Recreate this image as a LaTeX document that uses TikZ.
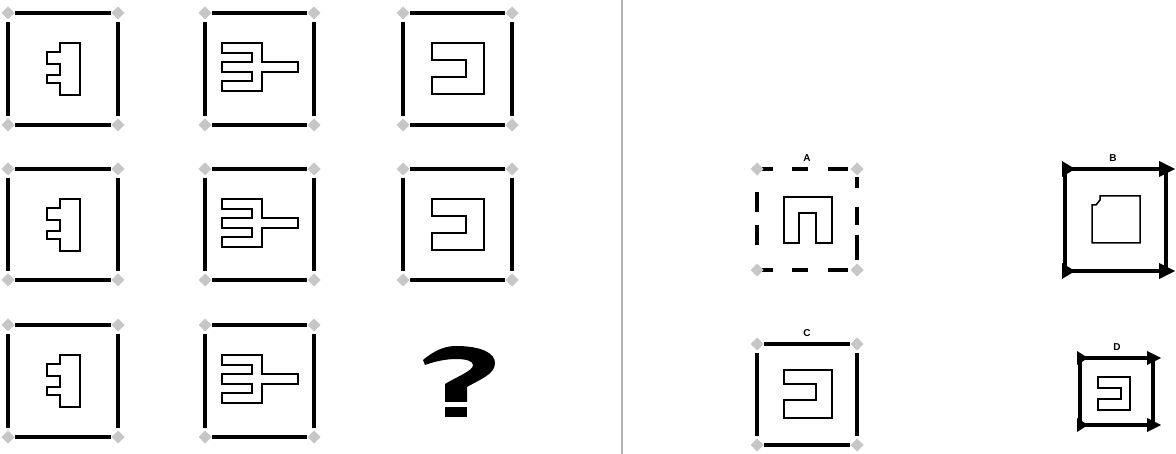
\documentclass[tikz,border=0pt]{standalone}
\usepackage{fontspec}
\setsansfont{Liberation Sans}
\tikzset{
  bar/.style={line width=4, black},
  gem/.style={fill=black!22, draw=none},
  fig/.style={line width=1.5, draw=black, fill=white, line join=miter},
  lbl/.style={font=\sffamily\bfseries\fontsize{10}{10}\selectfont, inner sep=0},
  sep/.style={draw=black!30, line width=1.5},
  tip/.style={fill=black, draw=none},
}
\newcommand\gemat[2]{\fill[gem] (#1,#2) ++(-6.5,0) -- ++(6.5,-6.5) -- ++(6.5,6.5) -- ++(-6.5,6.5) -- cycle;}
\newcommand\gframe[4]{%
  \draw[bar] (#1+7,#2) -- (#3-7,#2);
  \draw[bar] (#1+7,#4) -- (#3-7,#4);
  \draw[bar] (#1,#2+9) -- (#1,#4-9);
  \draw[bar] (#3,#2+9) -- (#3,#4-9);
  \gemat{#1}{#2}\gemat{#3}{#2}\gemat{#1}{#4}\gemat{#3}{#4}}
\newcommand\keyshape[2]{\draw[fig,shift={(#1,#2)}] (52,30) -- (72,30) -- (72,82) -- (52,82) -- (52,70) -- (39,70) -- (39,62) -- (52,62) -- (52,51) -- (39,51) -- (39,39) -- (52,39) -- cycle;}
\newcommand\combshape[2]{\draw[fig,shift={(#1,#2)}] (17,30) -- (57,30) -- (57,49) -- (93,49) -- (93,59) -- (57,59) -- (57,78) -- (17,78) -- (17,68) -- (47,68) -- (47,59) -- (17,59) -- (17,49) -- (47,49) -- (47,40) -- (17,40) -- cycle;}
\newcommand\cshape[2]{\draw[fig,shift={(#1,#2)}] (29,30) -- (81,30) -- (81,81) -- (29,81) -- (29,64) -- (63,64) -- (63,47) -- (29,47) -- cycle;}
\begin{document}
\begin{tikzpicture}[x=1pt,y=-1pt]
\useasboundingbox (0,0) rectangle (1176,454);
\fill[white] (0,0) rectangle (1176,454);
% matrix
\foreach \t/\b in {13/125,169/280,325/437}{
  \gframe{8}{\t}{118}{\b}
  \keyshape{8}{\t}
  \gframe{205}{\t}{314}{\b}
  \combshape{205}{\t}
}
\gframe{403}{13}{512}{125}\cshape{403}{13}
\gframe{403}{169}{512}{280}\cshape{403}{169}
% question mark
\fill (423,360) .. controls (435,350) and (445,346) .. (456,346) .. controls (481,346) and (495,353) .. (495,363) .. controls (495,374) and (481,379) .. (467,387) -- (467,402) -- (445,402) -- (445,384) .. controls (458,376) and (473,371) .. (473,365) .. controls (473,361) and (466,359) .. (456,359) .. controls (445,359) and (433,362) .. (425,365) -- cycle;
\fill (445,407) rectangle (467,417);
% separator
\draw[sep] (622,0) -- (622,454);
% option A
\node[lbl] (la) at (807,158) {A};
\foreach \a/\b in {762/773,792/808,828/848}{
  \draw[bar] (\a,169) -- (\b,169);
  \draw[bar] (\a,270) -- (\b,270);}
\foreach \a/\b in {192/212,225/245}{\draw[bar] (757,\a) -- (757,\b);}
\foreach \a/\b in {177/188,207/225,235/260}{\draw[bar] (857,\a) -- (857,\b);}
\gemat{757}{169}\gemat{857}{169}\gemat{757}{270}\gemat{857}{270}
\draw[fig] (784,197) -- (832,197) -- (832,243) -- (816,243) -- (816,213) -- (799,213) -- (799,243) -- (784,243) -- cycle;
% option B
\node[lbl] (lb) at (1113,158) {B};
\draw[bar] (1064,169) -- (1162,169);
\draw[bar] (1064,271) -- (1162,271);
\draw[bar] (1065,169) -- (1065,271);
\draw[bar] (1166,169) -- (1166,271);
\fill[tip] (1159,161) -- (1175,169) -- (1159,177) -- cycle;
\fill[tip] (1159,263) -- (1175,271) -- (1159,279) -- cycle;
\fill[tip] (1062,161) -- (1075,169) -- (1062,177) -- cycle;
\fill[tip] (1062,263) -- (1075,271) -- (1062,279) -- cycle;
\draw[fig] (1092,205) -- (1096,205) -- (1100,200) -- (1100,196) -- (1140,196) -- (1140,243) -- (1092,243) -- cycle;
% option C
\node[lbl] (lc) at (807,333) {C};
\gframe{757}{344}{857}{445}
\draw[fig] (784,370) -- (832,370) -- (832,418) -- (784,418) -- (784,400) -- (816,400) -- (816,384) -- (784,384) -- cycle;
% option D
\node[lbl] (ld) at (1117,347) {D};
\draw[bar] (1079,358) -- (1150,358);
\draw[bar] (1079,425) -- (1150,425);
\draw[bar] (1080,358) -- (1080,425);
\draw[bar] (1153,358) -- (1153,425);
\fill[tip] (1147,351) -- (1161,358) -- (1147,365) -- cycle;
\fill[tip] (1147,418) -- (1161,425) -- (1147,432) -- cycle;
\fill[tip] (1077,351) -- (1088,358) -- (1077,365) -- cycle;
\fill[tip] (1077,418) -- (1088,425) -- (1077,432) -- cycle;
\draw[fig] (1098,377) -- (1130,377) -- (1130,410) -- (1098,410) -- (1098,399) -- (1121,399) -- (1121,388) -- (1098,388) -- cycle;
\end{tikzpicture}
\end{document}
